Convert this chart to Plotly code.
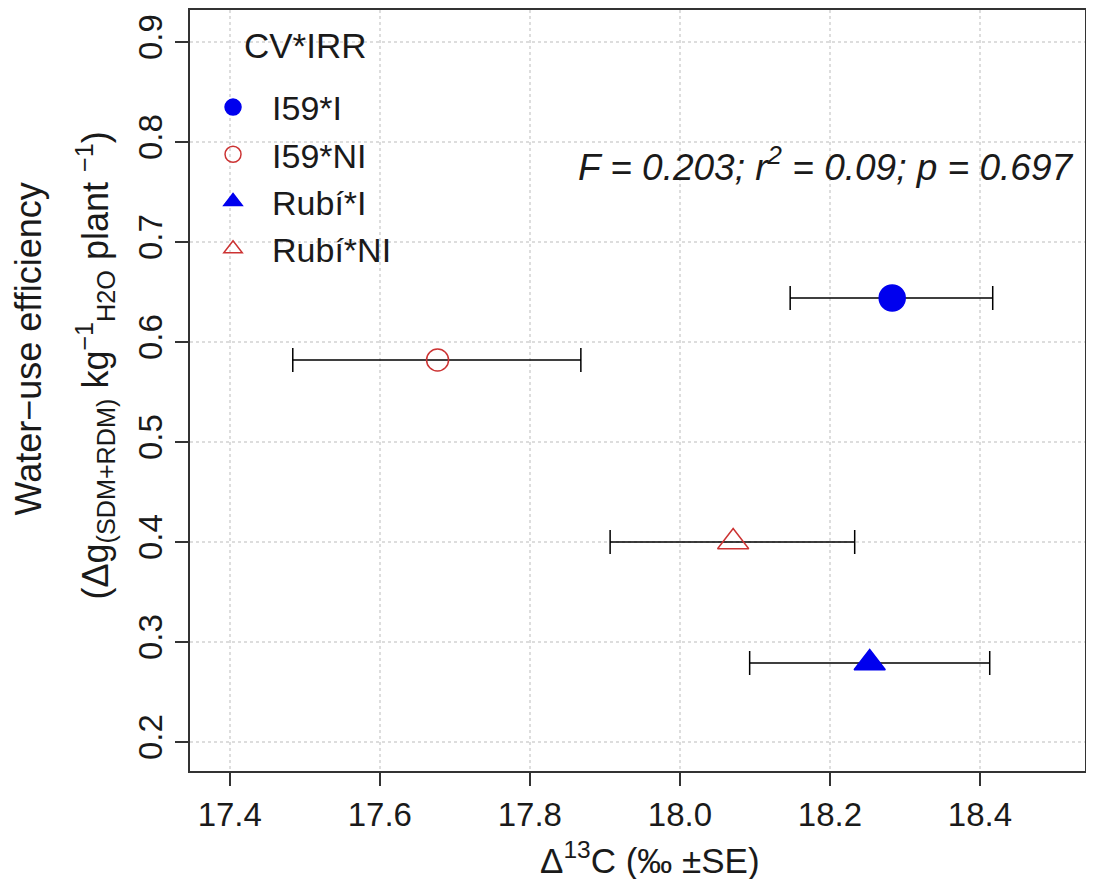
"""WUE vs carbon isotope discrimination, by cultivar x irrigation."""

import plotly.graph_objects as go

groups = ["I59*I", "I59*NI", "Rubí*I", "Rubí*NI"]
d13c = [18.283, 17.677, 18.253, 18.071]
d13c_lo = [18.147, 17.484, 18.093, 17.907]
d13c_hi = [18.417, 17.868, 18.413, 18.233]
wue = [0.644, 0.582, 0.279, 0.400]

symbols = ["circle", "circle-open", "triangle-up", "triangle-up-open"]
colors = ["#0000ee", "#cc3333", "#0000ee", "#cc3333"]
sizes = [26, 22, 27, 27]

FONT = "Liberation Sans, Arial, sans-serif"
INK = "#1a1a1a"

fig = go.Figure()
for i, g in enumerate(groups):
    fig.add_trace(go.Scatter(
        x=[d13c[i]], y=[wue[i]], mode="markers", name=g,
        marker=dict(symbol=symbols[i], color=colors[i], size=sizes[i],
                    line=dict(color=colors[i], width=1.5)),
        error_x=dict(type="data", symmetric=False,
                     array=[d13c_hi[i] - d13c[i]],
                     arrayminus=[d13c[i] - d13c_lo[i]],
                     color="black", thickness=1.5, width=12),
    ))

axis_common = dict(
    showline=True, mirror=True, linecolor="#333333", linewidth=2,
    ticks="outside", ticklen=13, tickcolor="#333333", tickwidth=1.5,
    showgrid=True, gridcolor="#dddddd", griddash="dot", gridwidth=1.5,
    zeroline=False, tickfont=dict(size=33, color=INK, family=FONT),
)
fig.update_xaxes(range=[17.347, 18.54], tickvals=[17.4, 17.6, 17.8, 18.0, 18.2, 18.4],
                 ticktext=["17.4", "17.6", "17.8", "18.0", "18.2", "18.4"], **axis_common)
fig.update_yaxes(range=[0.171, 0.932], tickvals=[0.2, 0.3, 0.4, 0.5, 0.6, 0.7, 0.8, 0.9],
                 tickangle=-90, **axis_common)

fig.add_annotation(
    x=0.514, y=-0.114, xref="paper", yref="paper", showarrow=False,
    xanchor="center", yanchor="middle",
    text="Δ<sup>13</sup>C (‰ ±SE)", font=dict(size=35, family=FONT, color=INK),
)
fig.add_annotation(
    x=-0.181, y=0.554, xref="paper", yref="paper", showarrow=False, textangle=-90,
    xanchor="center", yanchor="middle",
    text="Water−use efficiency", font=dict(size=36, family=FONT, color=INK),
)
fig.add_annotation(
    x=-0.106, y=0.533, xref="paper", yref="paper", showarrow=False, textangle=-90,
    xanchor="center", yanchor="middle",
    text="(Δg<sub>(SDM+RDM)</sub> kg<sup>−1</sup><sub>H2O</sub> plant <sup>−1</sup>)",
    font=dict(size=36, family=FONT, color=INK),
)
fig.add_annotation(
    x=0.989, y=0.797, xref="paper", yref="paper", showarrow=False,
    xanchor="right", yanchor="middle",
    text="<i>F = 0.203; r<sup>2</sup> = 0.09; p = 0.697</i>",
    font=dict(size=37, family=FONT, color=INK),
)
fig.add_annotation(
    x=0.058, y=0.954, xref="paper", yref="paper", showarrow=False,
    xanchor="left", yanchor="middle",
    text="CV*IRR", font=dict(size=35, family=FONT, color=INK),
)

# page body adds an 8px offset, so the figure is sized and shifted for it
fig.update_layout(
    width=1086, height=871,
    margin=dict(l=182, r=9, t=0, b=108),
    plot_bgcolor="white", paper_bgcolor="white",
    font=dict(family=FONT),
    legend=dict(
        x=0.0045, y=0.91, xanchor="left", yanchor="top",
        bgcolor="rgba(0,0,0,0)",
        font=dict(size=34, color=INK),
        itemwidth=68,
    ),
)

fig.write_html("out.html")
